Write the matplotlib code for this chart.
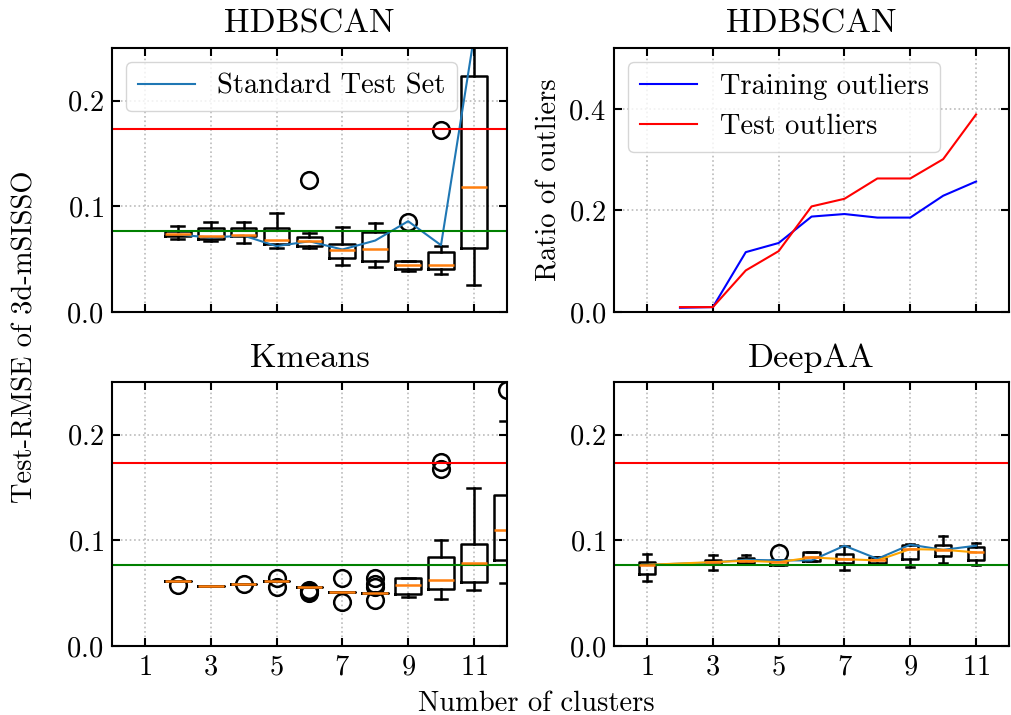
import matplotlib.pyplot as plt
import numpy as np

plt.rcParams['font.family'] = ['cmr10', 'DejaVu Serif']
plt.rcParams['mathtext.fontset'] = 'cm'
plt.rcParams['axes.formatter.use_mathtext'] = True
plt.rcParams['font.size'] = 20.5
plt.rcParams['axes.linewidth'] = 1.5
plt.rcParams['xtick.direction'] = 'in'
plt.rcParams['ytick.direction'] = 'in'
plt.rcParams['xtick.top'] = True
plt.rcParams['ytick.right'] = True
plt.rcParams['xtick.major.size'] = 6
plt.rcParams['ytick.major.size'] = 6
plt.rcParams['xtick.major.width'] = 1.5
plt.rcParams['ytick.major.width'] = 1.5
plt.rcParams['xtick.major.pad'] = 6
plt.rcParams['ytick.major.pad'] = 6

# reference lines (same on every RMSE panel)
rmse_red = 0.173
rmse_green = 0.077

# HDBSCAN boxes
hdb_pos = [2, 3, 4, 5, 6, 7, 8, 9, 10, 11]
hdb_lo = [0.0690, 0.0668, 0.0655, 0.0608, 0.0608, 0.0447, 0.0425, 0.0387, 0.0356, 0.0252]
hdb_q1 = [0.0718, 0.0693, 0.0718, 0.0649, 0.0630, 0.0513, 0.0485, 0.0409, 0.0410, 0.0608]
hdb_med = [0.0743, 0.0724, 0.0734, 0.0683, 0.0674, 0.0583, 0.0598, 0.0444, 0.0444, 0.1184]
hdb_q3 = [0.0765, 0.0794, 0.0797, 0.0797, 0.0715, 0.0643, 0.0762, 0.0479, 0.0570, 0.2236]
hdb_hi = [0.0810, 0.0857, 0.0857, 0.0939, 0.0750, 0.0803, 0.0844, 0.0485, 0.0627, 0.3000]
hdb_fliers = {6: [0.1254], 9: [0.0857], 10: [0.1723]}
hdb_std = [0.0734, 0.0705, 0.0724, 0.0624, 0.0670, 0.0592, 0.0677, 0.0860, 0.0633, 0.2600]

# HDBSCAN outlier ratios
out_train = [0.0085, 0.0098, 0.118, 0.136, 0.188, 0.193, 0.186, 0.186, 0.229, 0.257]
out_test = [0.0098, 0.0098, 0.082, 0.120, 0.208, 0.223, 0.263, 0.263, 0.301, 0.389]

# Kmeans boxes
km_pos = [2, 3, 4, 5, 6, 7, 8, 9, 10, 11, 12]
km_lo = [0.0619, 0.0571, 0.0590, 0.0619, 0.0562, 0.0514, 0.0505, 0.0467, 0.0441, 0.0530, 0.0600]
km_q1 = [0.0619, 0.0571, 0.0590, 0.0619, 0.0562, 0.0514, 0.0505, 0.0490, 0.0540, 0.0610, 0.0816]
km_med = [0.0619, 0.0571, 0.0590, 0.0619, 0.0562, 0.0514, 0.0505, 0.0575, 0.0625, 0.0784, 0.1098]
km_q3 = [0.0619, 0.0571, 0.0590, 0.0619, 0.0562, 0.0514, 0.0505, 0.0640, 0.0844, 0.0968, 0.1425]
km_hi = [0.0619, 0.0571, 0.0590, 0.0619, 0.0562, 0.0514, 0.0505, 0.0640, 0.1003, 0.1498, 0.2130]
km_fliers = {2: [0.0578], 4: [0.0590], 5: [0.0640, 0.0560],
             6: [0.0530, 0.0505, 0.0518], 7: [0.0640, 0.0420],
             8: [0.0640, 0.0590, 0.0560, 0.0435], 10: [0.1737, 0.1673],
             12: [0.2420]}

# DeepAA boxes
dp_pos = [1, 3, 4, 5, 6, 7, 8, 9, 10, 11]
dp_lo = [0.0616, 0.0720, 0.0775, 0.0770, 0.0800, 0.0720, 0.0775, 0.0752, 0.0784, 0.0771]
dp_q1 = [0.0686, 0.0775, 0.0784, 0.0770, 0.0800, 0.0790, 0.0784, 0.0825, 0.0848, 0.0810]
dp_med = [0.0768, 0.0794, 0.0806, 0.0794, 0.0838, 0.0822, 0.0810, 0.0917, 0.0911, 0.0886]
dp_q3 = [0.0794, 0.0816, 0.0829, 0.0810, 0.0886, 0.0873, 0.0838, 0.0959, 0.0959, 0.0933]
dp_hi = [0.0870, 0.0863, 0.0857, 0.0810, 0.0886, 0.0949, 0.0838, 0.0968, 0.1044, 0.0975]
dp_fliers = {5: [0.0880]}
dp_std = [0.0768, 0.0790, 0.0816, 0.0810, 0.0810, 0.0949, 0.0825, 0.0959, 0.0910, 0.0949]
dp_mean = [0.0768, 0.0794, 0.0806, 0.0794, 0.0838, 0.0822, 0.0810, 0.0917, 0.0911, 0.0886]

xticks = [1, 3, 5, 7, 9, 11]


def box_stats(pos, lo, q1, med, q3, hi, fliers):
    stats = []
    for i, p in enumerate(pos):
        stats.append(dict(whislo=lo[i], q1=q1[i], med=med[i], q3=q3[i],
                          whishi=hi[i], fliers=fliers.get(p, [])))
    return stats


def draw_boxes(ax, pos, stats, width):
    lw = 1.8
    ax.bxp(stats, positions=pos, widths=width, manage_ticks=False,
           boxprops=dict(color='k', lw=lw),
           whiskerprops=dict(color='k', lw=lw),
           capprops=dict(color='k', lw=lw),
           medianprops=dict(color='C1', lw=lw),
           flierprops=dict(marker='o', markersize=12, markerfacecolor='none',
                           markeredgecolor='k', markeredgewidth=1.8))


def rmse_panel(ax):
    ax.axhline(rmse_red, color='red', lw=1.5)
    ax.axhline(rmse_green, color='green', lw=1.5)
    ax.set_ylim(0, 0.25)
    ax.set_yticks([0.0, 0.1, 0.2])


fig, axes = plt.subplots(2, 2, figsize=(10.12, 7.15), dpi=100)
fig.subplots_adjust(left=0.1107, right=0.997, top=0.933, bottom=0.0965,
                    wspace=0.272, hspace=0.264)

# HDBSCAN RMSE
ax = axes[0, 0]
draw_boxes(ax, hdb_pos, box_stats(hdb_pos, hdb_lo, hdb_q1, hdb_med, hdb_q3, hdb_hi, hdb_fliers), 0.78)
ax.plot(hdb_pos, hdb_std, color='C0', lw=1.5, label='Standard Test Set')
rmse_panel(ax)
ax.set_title('HDBSCAN', pad=11)
ax.legend(loc='upper left')

# HDBSCAN outliers
ax = axes[0, 1]
ax.plot(hdb_pos, out_train, color='blue', lw=1.5, label='Training outliers')
ax.plot(hdb_pos, out_test, color='red', lw=1.5, label='Test outliers')
ax.set_ylim(0, 0.52)
ax.set_yticks([0.0, 0.2, 0.4])
ax.set_ylabel('Ratio of outliers')
ax.set_title('HDBSCAN', pad=11)
ax.legend(loc='upper left')

# Kmeans
ax = axes[1, 0]
draw_boxes(ax, km_pos, box_stats(km_pos, km_lo, km_q1, km_med, km_q3, km_hi, km_fliers), 0.78)
rmse_panel(ax)
ax.set_title('Kmeans', pad=11)

# DeepAA
ax = axes[1, 1]
draw_boxes(ax, dp_pos, box_stats(dp_pos, dp_lo, dp_q1, dp_med, dp_q3, dp_hi, dp_fliers), 0.5)
ax.plot(dp_pos, dp_std, color='C0', lw=1.5)
ax.plot(dp_pos, dp_mean, color='orange', lw=1.5)
rmse_panel(ax)
ax.set_title('DeepAA', pad=11)

for ax in axes.flat:
    ax.set_xlim(0, 12)
    ax.set_xticks(xticks)
    ax.grid(True, ls=':', color='#bbbbbb', lw=1.2)
for ax in axes[0]:
    ax.tick_params(labelbottom=False)

fig.text(0.025, 0.529, 'Test-RMSE of 3d-mSISSO', rotation=90, ha='center', va='center')
fig.text(0.53, 0.006, 'Number of clusters', ha='center', va='baseline')

fig.savefig('out.png', dpi=100)
